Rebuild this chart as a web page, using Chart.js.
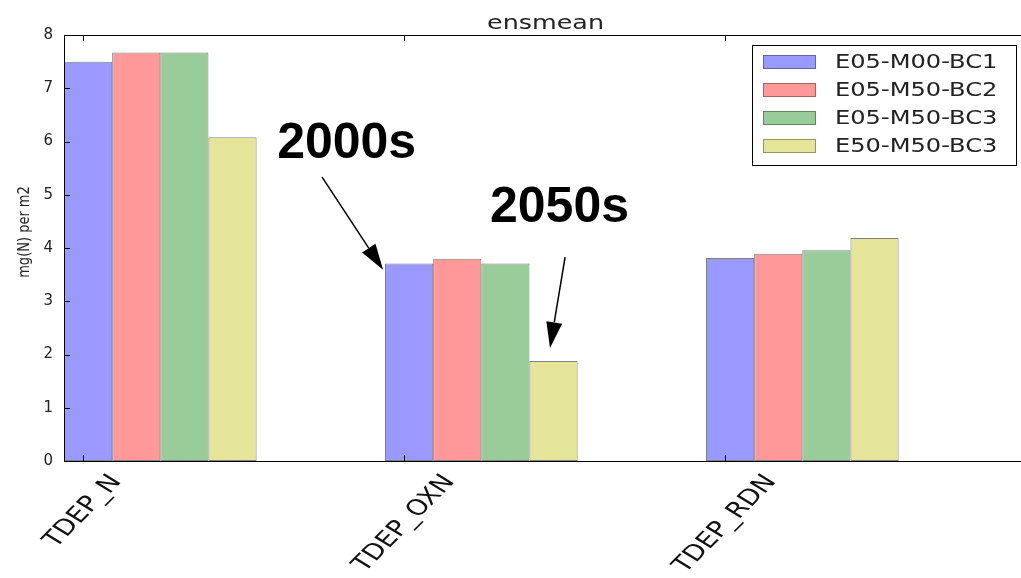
<!DOCTYPE html>
<html>
<head>
<meta charset="utf-8">
<script src="https://cdn.jsdelivr.net/npm/chart.js@4.4.1/dist/chart.umd.min.js"></script>
<style>
  html, body { margin:0; padding:0; background:#fff; overflow:hidden; }
  #wrap { width:1040px; height:578px; }
</style>
</head>
<body>
<div id="wrap"><canvas id="barChart" width="1040" height="578"></canvas></div>
<script>
// data
const categories = ['TDEP_N', 'TDEP_OXN', 'TDEP_RDN'];
const seriesNames = ['E05-M00-BC1', 'E05-M50-BC2', 'E05-M50-BC3', 'E50-M50-BC3'];
const e05m00bc1 = [7.50, 3.71, 3.81];
const e05m50bc2 = [7.67, 3.80, 3.89];
const e05m50bc3 = [7.67, 3.71, 3.96];
const e50m50bc3 = [6.08, 1.88, 4.19];
const groupCenters = [0.3, 1.3, 2.3];     // x value of each bar group
const categoryTicks = [0.06, 1.06, 2.06]; // x value of each category tick
const yTicks = [0, 1, 2, 3, 4, 5, 6, 7, 8];
const titleText = 'ensmean';
const yTitle = 'mg(N) per m2';
// annotation arrows: [label, text x, text y, from x, from y, to x, to y] in data units
const notes = [
  ['2000s', 0.664, 5.69, 0.804, 5.33, 0.994, 3.59],
  ['2050s', 1.327, 4.49, 1.561, 3.83, 1.514, 2.12]
];

const colors = ['#9999ff', '#ff9999', '#99cc99', '#e5e599'];
const allSeries = [e05m00bc1, e05m50bc2, e05m50bc3, e50m50bc3];
const SX = 1.27; // the original picture is stretched sideways

function stretchedText(ctx, text, x, y, align, baseline){
  ctx.save();
  ctx.translate(x, y);
  ctx.scale(SX, 1);
  ctx.textAlign = align;
  ctx.textBaseline = baseline;
  ctx.fillText(text, 0, 0);
  ctx.restore();
}

function drawArrow(ctx, x1, y1, x2, y2){
  const ang = Math.atan2(y2 - y1, x2 - x1);
  const head = 26, half = 8;
  const bx = x2 - head * Math.cos(ang), by = y2 - head * Math.sin(ang);
  ctx.beginPath();
  ctx.moveTo(x1, y1);
  ctx.lineTo(bx, by);
  ctx.stroke();
  ctx.beginPath();
  ctx.moveTo(x2, y2);
  ctx.lineTo(bx + half * Math.sin(ang), by - half * Math.cos(ang));
  ctx.lineTo(bx - half * Math.sin(ang), by + half * Math.cos(ang));
  ctx.closePath();
  ctx.fill();
}

const decorations = {
  id: 'decorations',
  afterDraw(chart){
    const {ctx, chartArea: a, scales: {x, y}} = chart;
    ctx.save();

    // frame + inward ticks
    ctx.strokeStyle = '#000';
    ctx.lineWidth = 1;
    ctx.strokeRect(a.left + 0.5, a.top + 0.5, a.right - a.left - 1, a.bottom - a.top);
    ctx.beginPath();
    yTicks.forEach(v => {
      const py = Math.round(y.getPixelForValue(v)) + 0.5;
      ctx.moveTo(a.left, py); ctx.lineTo(a.left + 6, py);
      ctx.moveTo(a.right, py); ctx.lineTo(a.right - 6, py);
    });
    categoryTicks.forEach(v => {
      const px = Math.round(x.getPixelForValue(v)) + 0.5;
      ctx.moveTo(px, a.bottom); ctx.lineTo(px, a.bottom - 6);
      ctx.moveTo(px, a.top); ctx.lineTo(px, a.top + 6);
    });
    ctx.stroke();

    // title
    ctx.fillStyle = '#222';
    ctx.font = '20px "DejaVu Sans"';
    stretchedText(ctx, titleText, (a.left + a.right) / 2, 29, 'center', 'alphabetic');

    // y axis title
    ctx.font = '13px "DejaVu Sans"';
    ctx.save();
    ctx.translate(25, 232);
    ctx.scale(SX, 1);
    ctx.rotate(-Math.PI / 2);
    ctx.textAlign = 'center';
    ctx.textBaseline = 'middle';
    ctx.fillText(yTitle, 0, 0);
    ctx.restore();

    // category labels, rotated and centred under the tick
    ctx.fillStyle = '#111';
    ctx.font = '22px "DejaVu Sans"';
    const th = 52 * Math.PI / 180, h = 16;
    categories.forEach((c, i) => {
      const L = ctx.measureText(c).width;
      const px = x.getPixelForValue(categoryTicks[i]) + 0.5 * L * Math.cos(th) * SX;
      const py = a.bottom + 12 + 0.5 * h * Math.cos(th);
      ctx.save();
      ctx.translate(px, py);
      ctx.scale(SX, 1);
      ctx.rotate(-th);
      ctx.textAlign = 'right';
      ctx.textBaseline = 'middle';
      ctx.fillText(c, 0, 0);
      ctx.restore();
    });

    // legend box
    const lx = 752, ly = 45, lw = 264, lh = 120;
    ctx.fillStyle = '#fff';
    ctx.fillRect(lx, ly, lw, lh);
    ctx.strokeStyle = '#000';
    ctx.strokeRect(lx + 0.5, ly + 0.5, lw, lh);
    ctx.font = '19px "DejaVu Sans"';
    seriesNames.forEach((n, i) => {
      const ry = ly + 17 + i * 28;
      ctx.fillStyle = colors[i];
      ctx.fillRect(763, ry - 7, 53, 14);
      ctx.strokeStyle = 'rgba(0,0,0,0.35)';
      ctx.strokeRect(763.5, ry - 6.5, 52, 13);
      ctx.fillStyle = '#222';
      stretchedText(ctx, n, 835, ry + 1, 'left', 'middle');
    });

    // annotations
    ctx.fillStyle = '#000';
    ctx.strokeStyle = '#000';
    ctx.lineWidth = 1.5;
    ctx.font = 'bold 50px "Liberation Sans"';
    notes.forEach(n => {
      ctx.textAlign = 'left';
      ctx.textBaseline = 'alphabetic';
      ctx.fillText(n[0], x.getPixelForValue(n[1]), y.getPixelForValue(n[2]));
      drawArrow(ctx, x.getPixelForValue(n[3]), y.getPixelForValue(n[4]),
                     x.getPixelForValue(n[5]), y.getPixelForValue(n[6]));
    });

    ctx.restore();
  }
};

const datasets = seriesNames.map((name, k) => ({
  label: name,
  data: groupCenters.map((c, i) => ({x: c, y: allSeries[k][i]})),
  backgroundColor: colors[k],
  borderColor: 'rgba(0,0,0,0.5)',
  borderWidth: 1,
  borderSkipped: false,
  categoryPercentage: 0.6,
  barPercentage: 1.0
}));

new Chart(document.getElementById('barChart'), {
  type: 'bar',
  data: {datasets},
  options: {
    responsive: false,
    animation: false,
    layout: {padding: {top: 35, right: 13, left: 0, bottom: 0}},
    plugins: {legend: {display: false}, tooltip: {enabled: false}, title: {display: false}},
    scales: {
      x: {
        type: 'linear', min: 0, max: 3, offset: false,
        afterBuildTicks: s => { s.ticks = categoryTicks.map(v => ({value: v})); },
        afterFit: s => { s.height = 117; },
        ticks: {display: false},
        grid: {display: false, offset: false},
        border: {display: false}
      },
      y: {
        min: 0, max: 8,
        afterBuildTicks: s => { s.ticks = yTicks.map(v => ({value: v})); },
        afterFit: s => { s.width = 64; },
        ticks: {font: {family: 'DejaVu Sans', size: 15}, color: '#222', padding: 3},
        grid: {display: false},
        border: {display: false}
      }
    }
  },
  plugins: [decorations]
});
</script>
</body>
</html>
